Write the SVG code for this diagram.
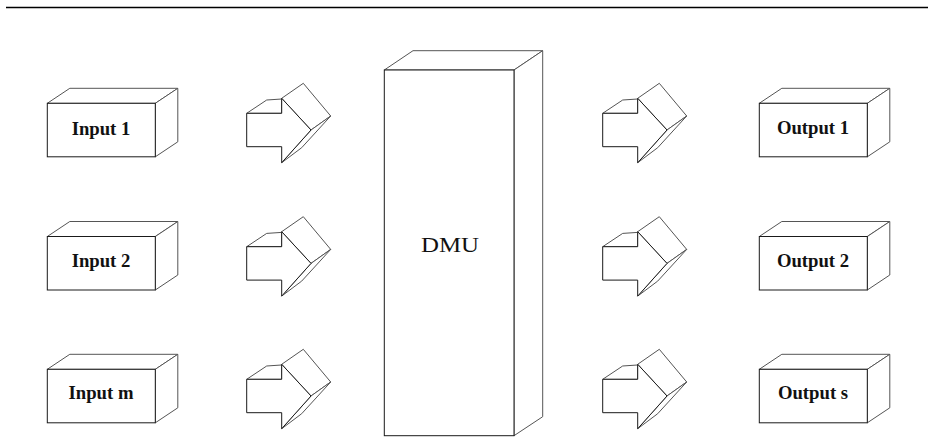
<svg xmlns="http://www.w3.org/2000/svg" xmlns:xlink="http://www.w3.org/1999/xlink" width="928" height="445" viewBox="0 0 928 445">
<style>
.sh{fill:#fff;stroke:#1a1a1a;stroke-width:1;stroke-linejoin:miter}
.dp{fill:#fff;stroke:#555;stroke-width:1}
.lbl{font-family:"Liberation Serif","Times New Roman",serif;font-weight:bold;font-size:18.7px;fill:#111;text-anchor:middle}
.big{font-family:"Liberation Serif","Times New Roman",serif;font-size:20px;fill:#111;text-anchor:middle}
</style>
<defs>
<g id="box">
<path class="dp" d="M0,0 L22.5,-15 L130.5,-15 L108,0 Z"/>
<path class="dp" d="M108,53.5 L130.5,38.5 L130.5,-15 L108,0 Z"/>
<rect class="sh" x="0" y="0" width="108" height="53.5"/>
</g>
<g id="arrow">
<path class="dp" d="M0,0 L20,-13.3 L35,-14.3 L35,0 Z"/>
<path class="dp" d="M35,-15 L56.6,-30 L84,2.7 L64.3,16.7 Z"/>
<path class="dp" d="M35,49.4 L55,34.4 L84,2.7 L64.3,16.7 Z"/>
<path class="sh" d="M0,0 L35,0 L35,-15 L64.3,16.7 L35,49.4 L35,33.4 L0,33.4 Z"/>
</g>
</defs>
<rect x="0" y="0" width="928" height="445" fill="#fff"/>
<line x1="6" y1="7.5" x2="928" y2="7.5" stroke="#000" stroke-width="1.3"/>
<g id="input1"><use xlink:href="#box" x="47.3" y="103.3"/><text class="lbl" x="101" y="135">Input 1</text></g>
<g id="input2"><use xlink:href="#box" x="47.3" y="236.5"/><text class="lbl" x="101" y="267">Input 2</text></g>
<g id="inputm"><use xlink:href="#box" x="47.3" y="369.3"/><text class="lbl" x="101" y="399">Input m</text></g>
<g id="dmu">
<path class="dp" d="M384.3,70 L413,50.7 L542.7,50.7 L514,70 Z"/>
<path class="dp" d="M514,435.7 L542.7,416.7 L542.7,50.7 L514,70 Z"/>
<rect class="sh" x="384.3" y="70" width="129.7" height="365.7"/>
<text class="big" x="450" y="252" textLength="58" lengthAdjust="spacingAndGlyphs">DMU</text>
</g>
<g id="output1"><use xlink:href="#box" x="759.3" y="103.3"/><text class="lbl" x="813" y="134">Output 1</text></g>
<g id="output2"><use xlink:href="#box" x="759.3" y="236.5"/><text class="lbl" x="813" y="267">Output 2</text></g>
<g id="outputs"><use xlink:href="#box" x="759.3" y="369.3"/><text class="lbl" x="813" y="399">Output s</text></g>
<g id="connectors">
<use xlink:href="#arrow" x="246.7" y="113.3"/>
<use xlink:href="#arrow" x="246.7" y="246.7"/>
<use xlink:href="#arrow" x="246.7" y="379.3"/>
<use xlink:href="#arrow" x="602.7" y="113.3"/>
<use xlink:href="#arrow" x="602.7" y="246.7"/>
<use xlink:href="#arrow" x="602.7" y="379.3"/>
</g>
</svg>
